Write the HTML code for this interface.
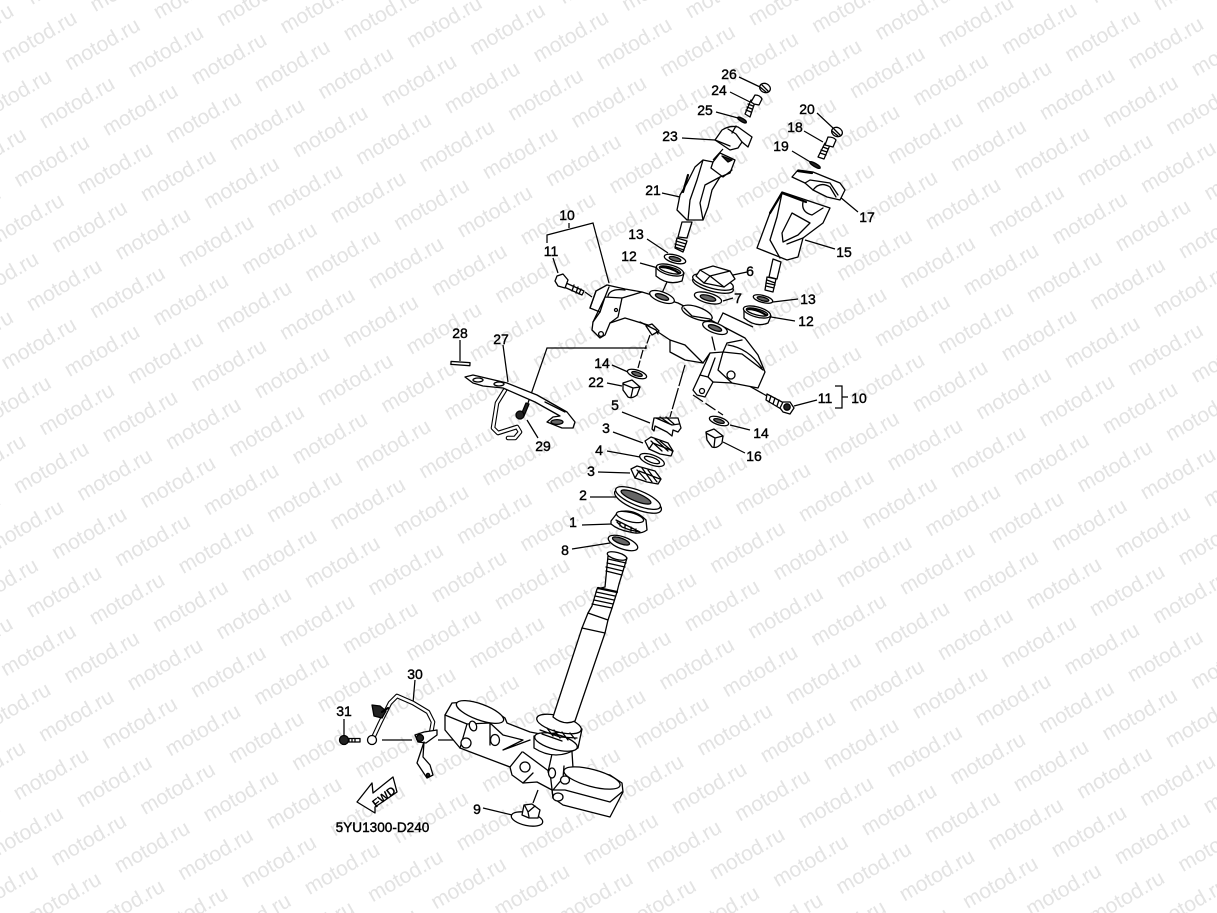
<!DOCTYPE html>
<html><head><meta charset="utf-8"><style>
html,body{margin:0;padding:0;background:#fff;width:1217px;height:913px;overflow:hidden}
svg{display:block}
.f{position:absolute;left:0;top:0;width:1217px;height:913px;overflow:hidden}
.w text{font:21px "Liberation Sans",sans-serif;fill:#e3e3e3;word-spacing:13.69px;text-rendering:geometricPrecision}
.l text{font:14px "Liberation Sans",sans-serif;fill:#000;stroke:#000;stroke-width:.4;text-anchor:middle}
.d path,.d ellipse,.d circle,.d polygon,.d rect{stroke:#000;stroke-width:1.3;fill:#fff;stroke-linejoin:round;stroke-linecap:round}
.d .n{fill:none}
.d .k{fill:#222}
.d .g{fill:#666}
.d .b{stroke-width:2.2;fill:none}
.d .tb{stroke-width:4.6;fill:none}
.d .tw{stroke:#fff;stroke-width:2.4;fill:none}
.t{stroke:#000;stroke-width:1.25;fill:none}
</style></head><body>
<div class="f">
<svg width="1217" height="913" viewBox="0 0 1217 913" xmlns="http://www.w3.org/2000/svg">
<g class="w" transform="translate(6.6,63.5) rotate(-30)">
<text x="-512" y="-75.8">motod.ru motod.ru motod.ru motod.ru motod.ru motod.ru motod.ru motod.ru motod.ru motod.ru motod.ru motod.ru motod.ru motod.ru motod.ru motod.ru</text>
<text x="-460.8" y="-37.9">motod.ru motod.ru motod.ru motod.ru motod.ru motod.ru motod.ru motod.ru motod.ru motod.ru motod.ru motod.ru motod.ru motod.ru motod.ru motod.ru</text>
<text x="-512" y="0">motod.ru motod.ru motod.ru motod.ru motod.ru motod.ru motod.ru motod.ru motod.ru motod.ru motod.ru motod.ru motod.ru motod.ru motod.ru motod.ru</text>
<text x="-460.8" y="37.9">motod.ru motod.ru motod.ru motod.ru motod.ru motod.ru motod.ru motod.ru motod.ru motod.ru motod.ru motod.ru motod.ru motod.ru motod.ru motod.ru</text>
<text x="-512" y="75.8">motod.ru motod.ru motod.ru motod.ru motod.ru motod.ru motod.ru motod.ru motod.ru motod.ru motod.ru motod.ru motod.ru motod.ru motod.ru motod.ru</text>
<text x="-460.8" y="113.7">motod.ru motod.ru motod.ru motod.ru motod.ru motod.ru motod.ru motod.ru motod.ru motod.ru motod.ru motod.ru motod.ru motod.ru motod.ru motod.ru</text>
<text x="-512" y="151.6">motod.ru motod.ru motod.ru motod.ru motod.ru motod.ru motod.ru motod.ru motod.ru motod.ru motod.ru motod.ru motod.ru motod.ru motod.ru motod.ru</text>
<text x="-460.8" y="189.5">motod.ru motod.ru motod.ru motod.ru motod.ru motod.ru motod.ru motod.ru motod.ru motod.ru motod.ru motod.ru motod.ru motod.ru motod.ru motod.ru</text>
<text x="-512" y="227.4">motod.ru motod.ru motod.ru motod.ru motod.ru motod.ru motod.ru motod.ru motod.ru motod.ru motod.ru motod.ru motod.ru motod.ru motod.ru motod.ru</text>
<text x="-460.8" y="265.3">motod.ru motod.ru motod.ru motod.ru motod.ru motod.ru motod.ru motod.ru motod.ru motod.ru motod.ru motod.ru motod.ru motod.ru motod.ru motod.ru</text>
<text x="-512" y="303.2">motod.ru motod.ru motod.ru motod.ru motod.ru motod.ru motod.ru motod.ru motod.ru motod.ru motod.ru motod.ru motod.ru motod.ru motod.ru motod.ru</text>
<text x="-460.8" y="341.1">motod.ru motod.ru motod.ru motod.ru motod.ru motod.ru motod.ru motod.ru motod.ru motod.ru motod.ru motod.ru motod.ru motod.ru motod.ru motod.ru</text>
<text x="-512" y="379">motod.ru motod.ru motod.ru motod.ru motod.ru motod.ru motod.ru motod.ru motod.ru motod.ru motod.ru motod.ru motod.ru motod.ru motod.ru motod.ru</text>
<text x="-460.8" y="416.9">motod.ru motod.ru motod.ru motod.ru motod.ru motod.ru motod.ru motod.ru motod.ru motod.ru motod.ru motod.ru motod.ru motod.ru motod.ru motod.ru</text>
<text x="-512" y="454.8">motod.ru motod.ru motod.ru motod.ru motod.ru motod.ru motod.ru motod.ru motod.ru motod.ru motod.ru motod.ru motod.ru motod.ru motod.ru motod.ru</text>
<text x="-460.8" y="492.7">motod.ru motod.ru motod.ru motod.ru motod.ru motod.ru motod.ru motod.ru motod.ru motod.ru motod.ru motod.ru motod.ru motod.ru motod.ru motod.ru</text>
<text x="-512" y="530.6">motod.ru motod.ru motod.ru motod.ru motod.ru motod.ru motod.ru motod.ru motod.ru motod.ru motod.ru motod.ru motod.ru motod.ru motod.ru motod.ru</text>
<text x="-460.8" y="568.5">motod.ru motod.ru motod.ru motod.ru motod.ru motod.ru motod.ru motod.ru motod.ru motod.ru motod.ru motod.ru motod.ru motod.ru motod.ru motod.ru</text>
<text x="-512" y="606.4">motod.ru motod.ru motod.ru motod.ru motod.ru motod.ru motod.ru motod.ru motod.ru motod.ru motod.ru motod.ru motod.ru motod.ru motod.ru motod.ru</text>
<text x="-460.8" y="644.3">motod.ru motod.ru motod.ru motod.ru motod.ru motod.ru motod.ru motod.ru motod.ru motod.ru motod.ru motod.ru motod.ru motod.ru motod.ru motod.ru</text>
<text x="-512" y="682.2">motod.ru motod.ru motod.ru motod.ru motod.ru motod.ru motod.ru motod.ru motod.ru motod.ru motod.ru motod.ru motod.ru motod.ru motod.ru motod.ru</text>
<text x="-460.8" y="720.1">motod.ru motod.ru motod.ru motod.ru motod.ru motod.ru motod.ru motod.ru motod.ru motod.ru motod.ru motod.ru motod.ru motod.ru motod.ru motod.ru</text>
<text x="-512" y="758">motod.ru motod.ru motod.ru motod.ru motod.ru motod.ru motod.ru motod.ru motod.ru motod.ru motod.ru motod.ru motod.ru motod.ru motod.ru motod.ru</text>
<text x="-460.8" y="795.9">motod.ru motod.ru motod.ru motod.ru motod.ru motod.ru motod.ru motod.ru motod.ru motod.ru motod.ru motod.ru motod.ru motod.ru motod.ru motod.ru</text>
<text x="-512" y="833.8">motod.ru motod.ru motod.ru motod.ru motod.ru motod.ru motod.ru motod.ru motod.ru motod.ru motod.ru motod.ru motod.ru motod.ru motod.ru motod.ru</text>
<text x="-460.8" y="871.7">motod.ru motod.ru motod.ru motod.ru motod.ru motod.ru motod.ru motod.ru motod.ru motod.ru motod.ru motod.ru motod.ru motod.ru motod.ru motod.ru</text>
<text x="-512" y="909.6">motod.ru motod.ru motod.ru motod.ru motod.ru motod.ru motod.ru motod.ru motod.ru motod.ru motod.ru motod.ru motod.ru motod.ru motod.ru motod.ru</text>
<text x="-460.8" y="947.5">motod.ru motod.ru motod.ru motod.ru motod.ru motod.ru motod.ru motod.ru motod.ru motod.ru motod.ru motod.ru motod.ru motod.ru motod.ru motod.ru</text>
<text x="-512" y="985.4">motod.ru motod.ru motod.ru motod.ru motod.ru motod.ru motod.ru motod.ru motod.ru motod.ru motod.ru motod.ru motod.ru motod.ru motod.ru motod.ru</text>
<text x="-460.8" y="1023.3">motod.ru motod.ru motod.ru motod.ru motod.ru motod.ru motod.ru motod.ru motod.ru motod.ru motod.ru motod.ru motod.ru motod.ru motod.ru motod.ru</text>
<text x="-512" y="1061.2">motod.ru motod.ru motod.ru motod.ru motod.ru motod.ru motod.ru motod.ru motod.ru motod.ru motod.ru motod.ru motod.ru motod.ru motod.ru motod.ru</text>
<text x="-460.8" y="1099.1">motod.ru motod.ru motod.ru motod.ru motod.ru motod.ru motod.ru motod.ru motod.ru motod.ru motod.ru motod.ru motod.ru motod.ru motod.ru motod.ru</text>
<text x="-512" y="1137">motod.ru motod.ru motod.ru motod.ru motod.ru motod.ru motod.ru motod.ru motod.ru motod.ru motod.ru motod.ru motod.ru motod.ru motod.ru motod.ru</text>
<text x="-460.8" y="1174.9">motod.ru motod.ru motod.ru motod.ru motod.ru motod.ru motod.ru motod.ru motod.ru motod.ru motod.ru motod.ru motod.ru motod.ru motod.ru motod.ru</text>
<text x="-512" y="1212.8">motod.ru motod.ru motod.ru motod.ru motod.ru motod.ru motod.ru motod.ru motod.ru motod.ru motod.ru motod.ru motod.ru motod.ru motod.ru motod.ru</text>
<text x="-460.8" y="1250.7">motod.ru motod.ru motod.ru motod.ru motod.ru motod.ru motod.ru motod.ru motod.ru motod.ru motod.ru motod.ru motod.ru motod.ru motod.ru motod.ru</text>
<text x="-512" y="1288.6">motod.ru motod.ru motod.ru motod.ru motod.ru motod.ru motod.ru motod.ru motod.ru motod.ru motod.ru motod.ru motod.ru motod.ru motod.ru motod.ru</text>
<text x="-460.8" y="1326.5">motod.ru motod.ru motod.ru motod.ru motod.ru motod.ru motod.ru motod.ru motod.ru motod.ru motod.ru motod.ru motod.ru motod.ru motod.ru motod.ru</text>
<text x="-512" y="1364.4">motod.ru motod.ru motod.ru motod.ru motod.ru motod.ru motod.ru motod.ru motod.ru motod.ru motod.ru motod.ru motod.ru motod.ru motod.ru motod.ru</text>
</g>

<!-- leaders -->
<g class="t">
<path d="M739 77L760 87M730 92L752 103M716 112L738 118M682 138L715 140M662 193L680 197M723 149L713 160"/>
<path d="M647 239L668 253M640 263L658 268M667 282L662 293M733 275L747 272M723 301L733 298"/>
<path d="M817 113L833 128M804 131L823 142M792 151L812 163M840 197L858 212M805 240L835 249M773 302L798 299M771 317L795 321"/>
<path d="M753 327L723 313L718 323"/>
<path d="M547 243L547 235L593 223L609 283M569 223V228M553 258L558 273M585 292L592 297"/>
<path d="M612 365L628 372M607 383L622 386M622 412L650 423M613 432L643 443M607 451L640 457M598 472L630 473M590 497L617 497M582 525L612 524M572 549L610 543"/>
<path d="M647 348L547 348L528 403"/>
<path d="M460 340V361M503 345L508 382M527 420L538 438"/>
<path d="M650 335L645 349M643 350L638 368" stroke-dasharray="9 2"/>
<path d="M685 365L670 417" stroke-dasharray="22 2"/>
<path d="M693 395L723 415" stroke-dasharray="12 3"/>
<path d="M730 425L750 430M723 442L745 453"/>
<path d="M735 378L767 396M794 406L817 400"/>
<path d="M835 386H842V408H835M842 397H848"/>
<path d="M344 719V735M415 680L413 703M382 740H412M438 740H493M483 808L512 815M538 790L533 803"/>
<path d="M697 313L694 330"/>
</g>

<g class="d">
<!-- 26, 24, 25 -->
<ellipse cx="765" cy="88" rx="5.5" ry="4.5" transform="rotate(25 765 88)"/>
<path d="M762 85L768 91M760 87L766 92" class="n"/>
<path d="M745 114L751 100L755 102L750 117Z"/>
<path d="M746 110L751 112M747 107L752 109M748 104L753 106" class="n"/>
<path d="M751 102L755 95Q760 95 762 99L759 105L754 104Z"/>
<ellipse cx="742" cy="120" rx="5" ry="1.6" transform="rotate(30 742 120)" class="k"/>
<!-- 23 -->
<path d="M715 140L722 130Q730 125 738 127L752 137L748 147L742 142L738 148L730 150Z"/>
<path d="M728 129L736 134L742 142M715 140L730 146M736 126L732 133" class="n"/>
<!-- 21 -->
<path d="M682 222L692 222L687 238L678 237Z"/>
<path d="M677 238L687 241L683 252L675 248Z"/>
<path d="M676 241L686 244M675 244L685 247M675 247L684 250" class="n"/>
<path d="M703 160L713 162L720 153L735 160L730 173L720 177L712 190L708 207L703 220L687 220L677 210L680 195L687 183L695 167Z"/>
<path d="M703 160L697 180L690 200L688 220M713 162L711 168L723 177L732 170M720 177L705 185L700 203L703 220" class="n"/>
<path d="M688 175L683 192" class="b"/>
<path d="M722 156L732 160L728 162Z" class="k"/>
<!-- 13/12 left -->
<ellipse cx="675" cy="259" rx="11" ry="4" transform="rotate(15 675 259)"/>
<ellipse cx="675" cy="259" rx="6" ry="2" transform="rotate(15 675 259)" class="g"/>
<path d="M656 268L656 276Q668 286 682 281L684 273Z"/>
<ellipse cx="670" cy="270" rx="14" ry="5" transform="rotate(15 670 270)"/>
<ellipse cx="670" cy="270" rx="11" ry="3" transform="rotate(15 670 270)"/>
<path d="M661 267Q670 267 679 273" class="b"/>
<!-- 6 -->
<ellipse cx="713" cy="285" rx="21" ry="6.5" transform="rotate(15 713 285)"/>
<ellipse cx="713" cy="282" rx="21" ry="6.5" transform="rotate(15 713 282)"/>
<path d="M700 270L713 266L730 271L735 279L724 287L704 283L696 276Z"/>
<path d="M700 270L710 276L724 287M710 276L730 271M704 283L710 276" class="n"/>
<!-- 20, 18, 19 -->
<ellipse cx="837" cy="132" rx="5.5" ry="4.5" transform="rotate(25 837 132)"/>
<path d="M834 129L840 135M832 131L838 136" class="n"/>
<path d="M818 157L825 143L830 145L824 159Z"/>
<path d="M820 153L826 155M821 150L827 152M823 147L828 149" class="n"/>
<path d="M825 145L828 137Q834 137 836 140L833 147Z"/>
<ellipse cx="815" cy="165" rx="6" ry="1.6" transform="rotate(30 815 165)" class="k"/>
<!-- 17 -->
<path d="M792 177L798 170L813 172L840 183L845 190L840 200L827 197L813 190L805 183Z"/>
<path d="M805 183L810 180L830 183L838 195M813 190Q820 181 830 187L836 197" class="n"/>
<path d="M798 171L812 173" class="b"/>
<!-- 15 -->
<path d="M773 259L781 262L777 279L769 277Z"/>
<path d="M767 277L776 279L773 292L765 290Z"/>
<path d="M767 280L775 283M766 283L775 285M766 286L774 288" class="n"/>
<path d="M782 192L830 208L823 223L803 238L798 257L787 260L757 248L770 213Z"/>
<path d="M792 213L810 223L798 235L783 242L782 233Z"/>
<path d="M782 193L777 217L770 240L780 258M803 202Q801 212 812 215L823 208M787 244L803 238" class="n"/>
<path d="M782 193L806 202M770 213L782 193" class="b"/>
<!-- 13/12 right -->
<ellipse cx="763" cy="299" rx="10" ry="3.5" transform="rotate(15 763 299)"/>
<ellipse cx="763" cy="299" rx="6" ry="1.8" transform="rotate(15 763 299)" class="g"/>
<path d="M744 310L744 318Q756 328 768 323L771 316Z"/>
<ellipse cx="757" cy="312" rx="14" ry="5" transform="rotate(15 757 312)"/>
<ellipse cx="757" cy="312" rx="11" ry="3" transform="rotate(15 757 312)"/>
<path d="M748 309Q757 309 766 315" class="b"/>
<!-- 7 -->
<ellipse cx="708" cy="298" rx="14" ry="5" transform="rotate(15 708 298)"/>
<ellipse cx="708" cy="298" rx="8" ry="2.6" transform="rotate(15 708 298)" class="g"/>
<!-- 11 left -->
<path d="M566 283L584 291L582 295L564 287Z"/>
<path d="M574 285L572 291M578 287L576 293M581 289L579 294" class="n"/>
<path d="M557 276L563 274L568 280L565 288L558 286L555 281Z"/>

<!-- top bridge -->
<path d="M596 291L607 285L625 289L642 292L678 303L745 338L758 355L765 372L758 388L732 383L713 382L705 397L697 395L693 390L700 375L710 353L703 363L685 360L670 352L670 340L658 332L648 325L625 318L610 323L605 335L600 338L592 330L593 322L600 312L590 308Z"/>
<path d="M605 297L622 298L642 292M605 297L593 322M605 297L600 312M590 308L596 291M622 298L618 317L610 323M605 297L609 287" class="n"/>
<path d="M625 290Q610 288 608 296" class="n"/>
<circle cx="601" cy="334" r="2.4"/>
<circle cx="616" cy="310" r="1.5"/>
<path d="M670 340L685 345L703 363M685 345L698 358M712 337L715 350" class="n"/>
<ellipse cx="662" cy="297" rx="13" ry="5" transform="rotate(20 662 297)"/>
<ellipse cx="662" cy="297" rx="7" ry="2.4" transform="rotate(20 662 297)" class="g"/>
<ellipse cx="697" cy="313" rx="16" ry="6" transform="rotate(20 697 313)"/>
<path d="M684 308L692 316L710 319" class="n"/>
<ellipse cx="715" cy="328" rx="13" ry="5" transform="rotate(20 715 328)"/>
<ellipse cx="715" cy="328" rx="7" ry="2.4" transform="rotate(20 715 328)" class="g"/>
<path d="M710 353L723 352L727 343L742 340M723 352L742 354L763 370M728 345Q748 348 762 368M723 352L718 370L732 383M700 375L708 377L713 382M715 358L708 377" class="n"/>
<circle cx="731" cy="375" r="4"/>
<circle cx="702" cy="391" r="2.5"/>
<path d="M646 326L652 324L659 331L652 335Z"/>
<path d="M640 322L656 330L658 334" class="n"/>

<!-- 28 -->
<rect x="451" y="362" width="19" height="3" transform="rotate(4 460 363)"/>
<!-- 27 -->
<path d="M505 390L497 403L493 428L498 433L517 427L520 432L515 438L508 438" class="tb"/>
<path d="M505 390L497 403L493 428L498 433L517 427L520 432L515 438L508 438" class="tw"/>
<path d="M465 377L473 375L507 383L537 395L567 412L575 422L573 428L562 428L547 422L553 417L560 416L535 402L503 388L483 386L473 383Z"/>
<path d="M545 402L565 412" class="n"/>
<ellipse cx="478" cy="380" rx="5" ry="2"/>
<ellipse cx="499" cy="384" rx="5" ry="2"/>
<ellipse cx="557" cy="422" rx="6" ry="2.4" class="g"/>
<!-- 29 -->
<path d="M521 415L526 403L529 404L524 416Z" class="k"/>
<ellipse cx="520" cy="415" rx="4" ry="4" class="k"/>
<!-- 14 left, 22 -->
<ellipse cx="637" cy="374" rx="10" ry="3.8" transform="rotate(18 637 374)"/>
<ellipse cx="637" cy="374" rx="5.5" ry="1.9" transform="rotate(18 637 374)" class="g"/>
<path d="M623 383L632 380L640 387L637 395Q632 399 628 397L623 390Z"/>
<path d="M623 384L633 388L640 387M633 388L631 397" class="n"/>
<!-- 5 -->
<path d="M654 418L678 418L681 428L678 432L673 430L672 436L667 432L655 426L654 431L652 429Z"/>
<path d="M656 418L672 425L679 424M660 417L670 424M666 417L674 424" class="n"/>
<!-- 3 upper -->
<path d="M645 441L651 437L668 443L673 451L671 456L660 454L649 449Z"/>
<path d="M649 449L653 443L673 451M655 439L668 451M660 441L672 451M651 441L662 451" class="n"/>
<!-- 4 -->
<ellipse cx="652" cy="460" rx="13" ry="5" transform="rotate(20 652 460)"/>
<ellipse cx="652" cy="460" rx="8" ry="2.6" transform="rotate(20 652 460)"/>
<!-- 3 lower -->
<path d="M631 469L637 466L655 471L661 479L658 484L647 482L635 478Z"/>
<path d="M635 478L639 471L660 479M642 468L652 482M648 470L657 482M637 470L646 480" class="n"/>
<!-- 2 -->
<ellipse cx="638" cy="501" rx="25" ry="8.5" transform="rotate(22 638 501)"/>
<ellipse cx="638" cy="498" rx="24" ry="7.5" transform="rotate(22 638 498)"/>
<ellipse cx="636" cy="497" rx="16" ry="4" transform="rotate(22 636 497)" class="g"/>
<!-- 1 -->
<path d="M611 521L618 512Q634 508 646 520L647 530Q640 535 630 532Q618 530 611 524Z"/>
<ellipse cx="630" cy="517" rx="14" ry="4.5" transform="rotate(15 630 517)"/>
<path d="M617 522L622 527L630 530L640 532L616 520M620 522V526M625 525V529M631 527V531M636 529V532" class="n"/>
<!-- 8 -->
<ellipse cx="623" cy="543" rx="15.5" ry="6" transform="rotate(20 623 543)"/>
<ellipse cx="621" cy="541" rx="9" ry="2.8" transform="rotate(20 621 541)" class="g"/>

<!-- lower bridge -->
<path d="M445 715L452 703L467 702L490 708L505 718L507 723L530 732L572 740L572 752L573 768L610 775L622 783L623 792L610 817L563 805L553 798L552 790L537 782L523 783L512 775L510 767L473 753L460 748L445 730Z"/>
<ellipse cx="480" cy="712" rx="25" ry="8" transform="rotate(20 480 712)"/>
<path d="M445 715L467 724L490 723L490 745M490 723L503 735L523 740L503 750L522 743L530 740M523 752L550 772L553 798M467 724L460 748M510 767L522 752M523 783L533 773" class="n"/>
<ellipse cx="592" cy="778" rx="29" ry="8.5" transform="rotate(15 592 778)"/>
<path d="M553 790L563 778L564 766M552 790L565 790L610 802L622 792M548 772L552 754" class="n"/>
<ellipse cx="473" cy="726" rx="3.5" ry="5" transform="rotate(-20 473 726)"/>
<ellipse cx="466" cy="743" rx="5" ry="5"/>
<ellipse cx="495" cy="740" rx="4.5" ry="5.5"/>
<ellipse cx="525" cy="767" rx="5" ry="5"/>
<ellipse cx="552" cy="773" rx="3.5" ry="5"/>
<ellipse cx="565" cy="780" rx="4.5" ry="4"/>
<ellipse cx="558" cy="797" rx="5" ry="4"/>
<!-- bearing ring -->
<path d="M534 736L534 748Q556 762 578 748L582 729Z"/>
<ellipse cx="556" cy="742" rx="22" ry="7.5" transform="rotate(15 556 742)"/>
<ellipse cx="559" cy="724" rx="23" ry="8" transform="rotate(15 559 724)"/>
<path d="M540 730L560 737L577 738M542 734L562 741M547 728L553 736M554 730L560 738M562 732L568 740M570 733L575 739" class="n"/>
<!-- stem -->
<path d="M608 556L605 587L597 589L592 606L588 613L582 628L553 717Q564 726 575 721L605 633L608 620L612 608L617 592L619 584L627 558Z"/>
<ellipse cx="617" cy="556" rx="10" ry="3.5" transform="rotate(15 617 556)"/>
<path d="M608 559L626 563M607 563L625 567M606 567L623 571M606 571L622 575" class="n"/>
<path d="M596 592L615 596M595 596L614 600M594 600L613 604M592 604L612 608M588 613L608 620M582 628L605 633" class="n"/>
<path d="M598 588L617 592" class="b"/>
<!-- 9 -->
<ellipse cx="527" cy="819" rx="16" ry="6.5" transform="rotate(12 527 819)"/>
<path d="M522 815L524 805L532 804L540 810L538 818L529 818Z"/>
<path d="M525 806L528 812L535 806M528 812L529 817" class="n"/>
<!-- 30 -->
<path d="M373 738L380 723L390 703L397 696L413 703L428 712L433 722L431 733" class="tb"/>
<path d="M373 738L380 723L390 703L397 696L413 703L428 712L433 722L431 733" class="tw"/>
<path d="M372 705L380 706L386 711L382 718L374 716Z" class="k"/>
<path d="M382 712L388 708" class="b"/>
<circle cx="372" cy="740" r="4.5"/>
<path d="M415 735L424 732L437 730L437 735L426 743L418 742Z"/>
<circle cx="420" cy="738" r="3.5" class="k"/>
<path d="M424 742L417 763L427 778L433 775L430 765L423 757Z"/>
<circle cx="428" cy="775" r="1.6" class="k"/>
<!-- 31 -->
<rect x="347" y="738.500" width="13" height="3.500"/>
<path d="M349 739V742M352 739V742M355 739V742" class="n"/>
<circle cx="344" cy="740" r="4.500" class="k"/>
<!-- 11 right -->
<path d="M767 394L784 403L781 409L766 400Z"/>
<path d="M771 396L769 402M775 398L773 404M779 400L777 406" class="n"/>
<path d="M783 402L790 402L794 408L790 414L783 412L780 408Z"/>
<circle cx="787" cy="407" r="3.2" class="k"/>
<!-- 14 right, 16 -->
<ellipse cx="719" cy="421" rx="10" ry="3.8" transform="rotate(18 719 421)"/>
<ellipse cx="719" cy="421" rx="5.5" ry="1.8" transform="rotate(18 719 421)" class="g"/>
<path d="M706 432L714 429L723 436L722 443Q717 449 712 447L707 440Z"/>
<path d="M706 433L715 438L723 436M715 438L714 447" class="n"/>
<!-- FWD -->
<path d="M357 802L372 783L373 793L393 777L397 792L375 807L375 813Z"/>
</g>
<text transform="translate(376,808) rotate(-38)" style="font:bold 11.500px 'Liberation Sans',sans-serif;fill:#000">FWD</text>

<!-- labels -->
<g class="l">
<text x="729" y="79">26</text><text x="719" y="95">24</text><text x="705" y="115">25</text><text x="670" y="141">23</text><text x="653" y="195">21</text>
<text x="807" y="114">20</text><text x="795" y="132">18</text><text x="781" y="151">19</text><text x="867" y="222">17</text><text x="844" y="257">15</text>
<text x="567" y="220">10</text><text x="551" y="256">11</text><text x="636" y="239">13</text><text x="629" y="261">12</text>
<text x="750" y="276">6</text><text x="738" y="303">7</text><text x="808" y="304">13</text><text x="806" y="326">12</text>
<text x="460" y="338">28</text><text x="501" y="344">27</text><text x="602" y="368">14</text><text x="596" y="387">22</text>
<text x="615" y="410">5</text><text x="606" y="433">3</text><text x="599" y="455">4</text><text x="591" y="476">3</text><text x="583" y="500">2</text><text x="573" y="527">1</text><text x="565" y="555">8</text>
<text x="543" y="451">29</text><text x="761" y="438">14</text><text x="754" y="461">16</text><text x="825" y="403">11</text><text x="859" y="403">10</text>
<text x="344" y="716">31</text><text x="415" y="679">30</text><text x="477" y="814">9</text>
<text x="382.500" y="832" style="font-size:13.6px">5YU1300-D240</text>
</g>
</svg>
</div>
</body></html>
